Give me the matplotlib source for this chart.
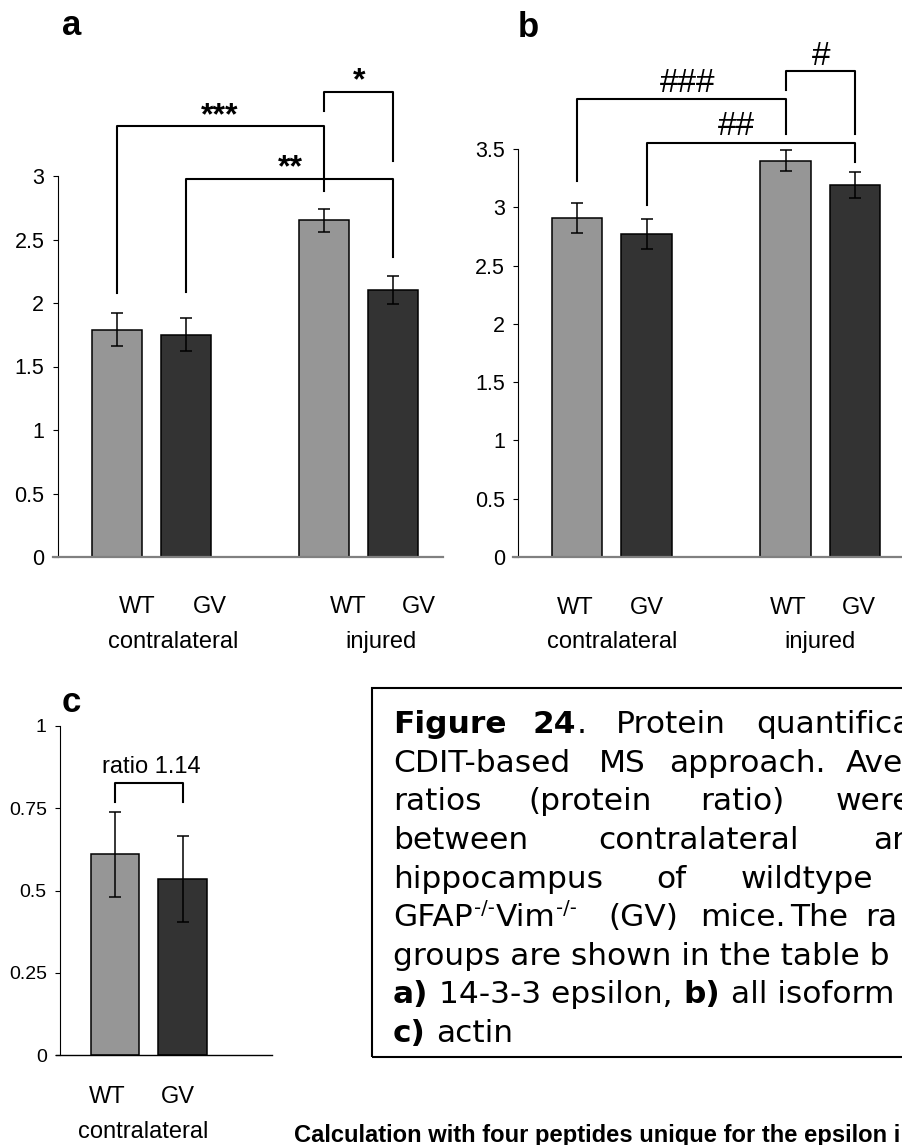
import matplotlib
matplotlib.use("Agg")
import matplotlib.pyplot as plt
import numpy as np
from matplotlib.patches import Rectangle

# data
groups = ["WT", "GV", "WT", "GV"]
conditions = ["contralateral", "injured"]
a_means = [1.79, 1.75, 2.65, 2.10]
a_err = [0.13, 0.13, 0.09, 0.11]
b_means = [2.91, 2.77, 3.40, 3.19]
b_err = [0.13, 0.13, 0.09, 0.11]
c_means = [0.61, 0.535]
c_err = [0.13, 0.13]
c_ratio = 1.14

a_ticks = [0, 0.5, 1, 1.5, 2, 2.5, 3]
b_ticks = [0, 0.5, 1, 1.5, 2, 2.5, 3, 3.5]
c_ticks = [0, 0.25, 0.5, 0.75, 1]

# significance brackets: (bar i, bar j, left foot, top, right foot, label, label x, label y)
a_sig = [(0, 2, 2.08, 3.39, 2.88, "***", 1.49, 3.41),
         (1, 3, 2.09, 2.98, 2.36, "**", 2.52, 3.00),
         (2, 3, 3.51, 3.66, 3.12, "*", 3.51, 3.68)]
b_sig = [(0, 2, 3.225, 3.93, 3.63, "###", 1.59, 3.99),
         (1, 3, 3.02, 3.55, 3.385, "##", 2.29, 3.62),
         (2, 3, 4.005, 4.17, 3.63, "#", 3.51, 4.22)]

W, H = 902, 1145
LIGHT, DARK = "#969696", "#333333"
plt.rcParams["font.family"] = ["Liberation Sans", "DejaVu Sans"]

fig = plt.figure(figsize=(W / 100, H / 100), dpi=100)
renderer = fig.canvas.get_renderer()


def px_axes(x0, x1, y_bottom, y_top):
    return fig.add_axes([x0 / W, 1 - y_bottom / H, (x1 - x0) / W, (y_bottom - y_top) / H])


def style(ax, ticks, tsize, gray_base=True):
    ax.set_yticks(ticks)
    ax.set_yticklabels([f"{t:g}" for t in ticks])
    ax.set_xticks([])
    for s in ["top", "right", "bottom"]:
        ax.spines[s].set_visible(False)
    ax.spines["left"].set_linewidth(0.8)
    ax.tick_params(axis="y", direction="out", length=3.5, width=0.8, pad=6, labelsize=tsize)
    if gray_base:
        ax.plot([-0.012, 1], [0, 0], color="#808080", lw=1.6,
                transform=ax.get_yaxis_transform(), clip_on=False, zorder=5)
    else:
        ax.plot([-0.02, 1], [0, 0], color="black", lw=1.0,
                transform=ax.get_yaxis_transform(), clip_on=False, zorder=5)


def bars(ax, xs, means, errs):
    cols = [LIGHT if g == "WT" else DARK for g in groups[:len(means)]]
    ax.bar(xs, means, width=0.72, color=cols, edgecolor="black", linewidth=1.1, zorder=2)
    ax.errorbar(xs, means, yerr=errs, fmt="none", ecolor="black", elinewidth=1.1,
                capsize=4.3, capthick=1.1, zorder=3)


def brackets(ax, xs, sig, size, weight):
    for i, j, yl, yt, yr, lab, lx, ly in sig:
        ax.plot([xs[i], xs[i], xs[j], xs[j]], [yl, yt, yt, yr], color="black",
                lw=1.5, clip_on=False, zorder=4)
        ax.text(lx, ly, lab, ha="center", va="baseline", fontsize=size,
                fontweight=weight, clip_on=False)


x4 = np.array([0, 1, 3, 4])

# ---- panel a
ax_a = px_axes(57.5, 443, 557, 176)
bars(ax_a, x4, a_means, a_err)
ax_a.set_xlim(-0.862, 4.725)
ax_a.set_ylim(0, 3)
style(ax_a, a_ticks, 15.5)
brackets(ax_a, x4, a_sig, 23, "bold")
for x, s in zip([0.30, 1.35, 3.35, 4.38], groups):
    ax_a.text(x, -0.39, s, ha="center", va="center", fontsize=17, clip_on=False)
for x, s in zip([0.81, 3.83], conditions):
    ax_a.text(x, -0.667, s, ha="center", va="center", fontsize=17, clip_on=False)

# ---- panel b
ax_b = px_axes(518, 902, 557, 149)
bars(ax_b, x4, b_means, b_err)
ax_b.set_xlim(-0.849, 4.676)
ax_b.set_ylim(0, 3.5)
style(ax_b, b_ticks, 15.5)
brackets(ax_b, x4, b_sig, 24, "normal")
for x, s in zip([-0.03, 1.0, 3.04, 4.05], groups):
    ax_b.text(x, -0.44, s, ha="center", va="center", fontsize=17, clip_on=False)
for x, s in zip([0.51, 3.49], conditions):
    ax_b.text(x, -0.726, s, ha="center", va="center", fontsize=17, clip_on=False)

# ---- panel c
ax_c = px_axes(60, 271.7, 1055, 726)
x2 = np.array([0, 1])
bars(ax_c, x2, c_means, c_err)
ax_c.set_xlim(-0.815, 2.32)
ax_c.set_ylim(0, 1)
style(ax_c, c_ticks, 14, gray_base=False)
ax_c.plot([0, 0, 1, 1], [0.77, 0.826, 0.826, 0.768], color="black", lw=1.5, clip_on=False)
ax_c.text(0.54, 0.858, f"ratio {c_ratio:.2f}", ha="center", va="baseline", fontsize=17)
for x, s in zip([-0.12, 0.93], groups[:2]):
    ax_c.text(x, -0.128, s, ha="center", va="center", fontsize=17, clip_on=False)
ax_c.text(0.41, -0.233, conditions[0], ha="center", va="center", fontsize=17, clip_on=False)

# panel letters
for x, y, s in [(62, 35, "a"), (517.7, 36.7, "b"), (62, 712, "c")]:
    fig.text(x / W, 1 - y / H, s, fontsize=25, fontweight="bold", va="baseline")

# ---- caption box (runs off the right edge, as in the source page)
fig.add_artist(Rectangle((372 / W, 1 - 1057 / H), 700 / W, (1057 - 688) / H,
                         transform=fig.transFigure, fill=False, edgecolor="black",
                         lw=1.5, clip_on=False))

CAP_SIZE = 22.5
space_px = 0.35 * CAP_SIZE * 100 / 72


def put(x, y, s, weight="normal", size=CAP_SIZE):
    t = fig.text(x / W, 1 - y / H, s, fontweight=weight, fontsize=size,
                 family="DejaVu Sans", va="baseline")
    return t.get_window_extent(renderer).x1


def chain(x, y, segs):
    for s, w in segs:
        if s.startswith(" "):
            x += space_px
            s = s[1:]
        x = put(x, y, s, w)
    return x


base0, step = 733.3, 38.55
ys = [base0 + k * step for k in range(9)]

# justified lines: word start positions as on the page
x = chain(392.8, ys[0], [("Figure", "bold")])
x = chain(532.8, ys[0], [("24", "bold"), (".", "normal")])
put(615.8, ys[0], "Protein")
put(755.8, ys[0], "quantifica")

for x, s in [(392.8, "CDIT-based"), (598.5, "MS"), (668.7, "approach."), (845.7, "Ave")]:
    put(x, ys[1], s)
for x, s in [(392.8, "ratios"), (528.7, "(protein"), (700.5, "ratio)"), (835.3, "were")]:
    put(x, ys[2], s)
for x, s in [(392.8, "between"), (598.5, "contralateral"), (873.3, "an")]:
    put(x, ys[3], s)
for x, s in [(392.8, "hippocampus"), (656.6, "of"), (740.2, "wildtype")]:
    put(x, ys[4], s)

x = put(392.8, ys[5], "GFAP")
x = put(x + 1, ys[5] - 12.5, "-/-", size=14)
x = put(x + 1, ys[5], "Vim")
put(x + 1, ys[5] - 12.5, "-/-", size=14)
for x, s in [(608.2, "(GV)"), (700.5, "mice."), (790.3, "The"), (864.7, "ra")]:
    put(x, ys[5], s)

chain(392.8, ys[6], [("groups are shown in the table b", "normal")])
chain(392.8, ys[7], [("a)", "bold"), (" 14-3-3 epsilon,", "normal"), (" b)", "bold"),
                     (" all isoform", "normal")])
chain(392.8, ys[8], [("c)", "bold"), (" actin", "normal")])

fig.text(294 / W, 1 - 1141.7 / H, "Calculation with four peptides unique for the epsilon i",
         fontsize=17.1, fontweight="bold", va="baseline")

fig.savefig("out.png", dpi=100)
